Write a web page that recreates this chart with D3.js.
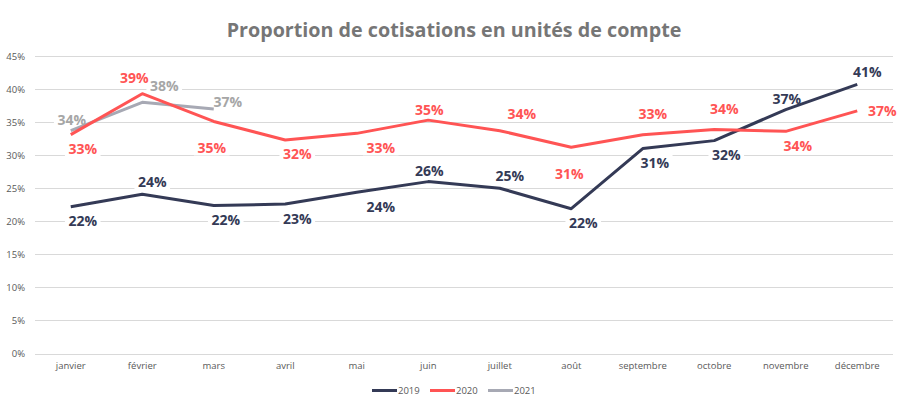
<!DOCTYPE html>
<html><head><meta charset="utf-8">
<script src="https://cdn.jsdelivr.net/npm/d3@7/dist/d3.min.js"></script>
<style>body{margin:0;background:#fff}svg{display:block}</style>
</head><body>
<svg id="c" width="908" height="404"></svg>
<script>
const months = ["janvier","février","mars","avril","mai","juin","juillet","août","septembre","octobre","novembre","décembre"];
const yTicks = [0,5,10,15,20,25,30,35,40,45];
const v2019 = [22.2,24.1,22.4,22.6,24.4,26.0,25.0,21.9,31.0,32.2,36.9,40.7];
const v2020 = [33.1,39.3,35.1,32.3,33.3,35.3,33.7,31.2,33.1,33.9,33.6,36.7];
const v2021 = [33.7,38.0,37.0];
const seriesNames = ["2019","2020","2021"];
// label placement codes (annotation layout)
const place2019 = ["b","a","b","b","br","ac","a","b","b","b","ac","a"];
const place2020 = ["b","al","bf","b","br","ac","ar","bf","af","af","b","r"];
const place2021 = ["ac","ar","ur"];

const colors = ["#343a56","#ff5454","#a7a9b4"];
const labelColors = ["#343a56","#ff5454","#a6a6a6"];
const offs = {a:[10,-13],b:[12,14],al:[-8,-16],ar:[22,-17],r:[25,0],ac:[1,-11],br:[24,14],bf:[-2,26],af:[10,-21],ur:[14,-7]};

const svg = d3.select("#c");
const x = d3.scaleBand().domain(months).range([35,893]);
const y = d3.scaleLinear().domain([0,45]).range([353.5,56]);

// gridlines
svg.append("g").selectAll("line").data(yTicks).join("line")
  .attr("x1",35).attr("x2",893).attr("y1",d=>Math.round(y(d))+0.5).attr("y2",d=>Math.round(y(d))+0.5)
  .attr("stroke","#d9d9d9").attr("stroke-width",1);

const yAxis = d3.axisLeft(y).tickValues(yTicks).tickFormat(d=>d+"%").tickSize(0).tickPadding(0);
const ga = svg.append("g").attr("transform","translate(25,0)").call(yAxis);
ga.select(".domain").remove();
ga.selectAll("text").attr("font-family","Open Sans").attr("font-size",9.5).attr("fill","#595959");

const xAxis = d3.axisBottom(x).tickSize(0).tickPadding(0);
const gx = svg.append("g").attr("transform","translate(0,362)").call(xAxis);
gx.select(".domain").remove();
gx.selectAll("text").attr("font-family","Open Sans").attr("font-size",9.5).attr("fill","#595959");

const cx = (i)=>x(months[i])+x.bandwidth()/2;
const line = d3.line().x((d,i)=>cx(i)).y(d=>y(d));
const allSeries = [v2019,v2020,v2021];
const places = [place2019,place2020,place2021];

const bgLayer = svg.append("g");
const lineLayer = svg.append("g");
const labelLayer = svg.append("g");

[0,2,1].forEach(s=>{
  lineLayer.append("path").datum(allSeries[s]).attr("d",line)
    .attr("fill","none").attr("stroke",colors[s]).attr("stroke-width",3).attr("stroke-linejoin","round");
});

allSeries.forEach((vals,s)=>{
  const lx = (d,i)=>cx(i)+offs[places[s][i]][0];
  const ly = (d,i)=>y(d)+offs[places[s][i]][1];
  const t = labelLayer.append("g").selectAll("text").data(vals).join("text")
    .attr("x",lx).attr("y",ly)
    .attr("text-anchor","middle").attr("dominant-baseline","central")
    .attr("font-family","Open Sans").attr("font-weight","bold").attr("font-size",14)
    .attr("fill",labelColors[s])
    .text(d=>Math.round(d)+"%");
  t.each(function(d,i){
    const w = this.getComputedTextLength()+7;
    bgLayer.append("rect").attr("x",lx(d,i)-w/2).attr("y",ly(d,i)-8).attr("width",w).attr("height",16).attr("fill","#fff");
  });
});

// title
const title = svg.append("text").attr("x",454).attr("y",29).attr("text-anchor","middle")
  .attr("dominant-baseline","central")
  .attr("font-family","Open Sans").attr("font-weight","bold").attr("font-size",21).attr("fill","#767676")
  .text("Proportion de cotisations en unités de compte");
const tw = title.node().getComputedTextLength();
title.attr("font-size",21*455/tw);

// legend
const legX = [372,430,488];
seriesNames.forEach((n,s)=>{
  svg.append("line").attr("x1",legX[s]).attr("x2",legX[s]+25).attr("y1",390.5).attr("y2",390.5)
    .attr("stroke",colors[s]).attr("stroke-width",3);
  svg.append("text").attr("x",legX[s]+26).attr("y",390.5).attr("dominant-baseline","central")
    .attr("font-family","Open Sans").attr("font-size",9.5).attr("fill","#595959").text(n);
});
</script>
</body></html>
